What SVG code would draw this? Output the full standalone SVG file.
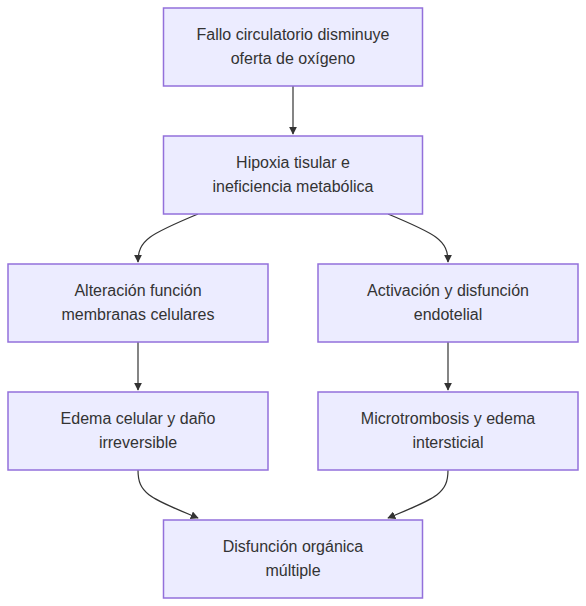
<svg xmlns="http://www.w3.org/2000/svg" width="586" height="606" viewBox="0 0 586 606">
<style>
.n rect{fill:#ECECFF;stroke:#9370DB;stroke-width:1.5}
.n text{font-family:"Liberation Sans",Arial,sans-serif;font-size:16px;fill:#333;text-anchor:middle}
.e path{fill:none;stroke:#333;stroke-width:1.2}
</style>
<defs>
<marker id="ah" viewBox="0 0 10 10" refX="9" refY="5" markerWidth="8" markerHeight="8" markerUnits="userSpaceOnUse" orient="auto">
<path d="M0,0 L10,5 L0,10 z" fill="#333"/>
</marker>
</defs>
<rect width="586" height="606" fill="#fff"/>
<g class="e">
<path d="M293,86 L293,134" marker-end="url(#ah)"/>
<path d="M198,214 C150,234 138,240 138,262" marker-end="url(#ah)"/>
<path d="M388,214 C436,234 448,240 448,262" marker-end="url(#ah)"/>
<path d="M138,342 L138,390" marker-end="url(#ah)"/>
<path d="M448,342 L448,390" marker-end="url(#ah)"/>
<path d="M138,470 C138,494 150,498 198,518" marker-end="url(#ah)"/>
<path d="M448,470 C448,494 436,498 388,518" marker-end="url(#ah)"/>
</g>
<g id="n1" class="n"><rect x="163.5" y="8" width="259" height="78"/><text x="293" y="40">Fallo circulatorio disminuye</text><text x="293" y="64">oferta de oxígeno</text></g>
<g id="n2" class="n"><rect x="163.5" y="136" width="259" height="78"/><text x="293" y="168">Hipoxia tisular e</text><text x="293" y="192">ineficiencia metabólica</text></g>
<g id="n3" class="n"><rect x="8" y="264" width="260" height="78"/><text x="138" y="296">Alteración función</text><text x="138" y="320">membranas celulares</text></g>
<g id="n4" class="n"><rect x="318" y="264" width="260" height="78"/><text x="448" y="296">Activación y disfunción</text><text x="448" y="320">endotelial</text></g>
<g id="n5" class="n"><rect x="8" y="392" width="260" height="78"/><text x="138" y="424">Edema celular y daño</text><text x="138" y="448">irreversible</text></g>
<g id="n6" class="n"><rect x="318" y="392" width="260" height="78"/><text x="448" y="424">Microtrombosis y edema</text><text x="448" y="448">intersticial</text></g>
<g id="n7" class="n"><rect x="163.5" y="520" width="259" height="78"/><text x="293" y="552">Disfunción orgánica</text><text x="293" y="576">múltiple</text></g>
</svg>
